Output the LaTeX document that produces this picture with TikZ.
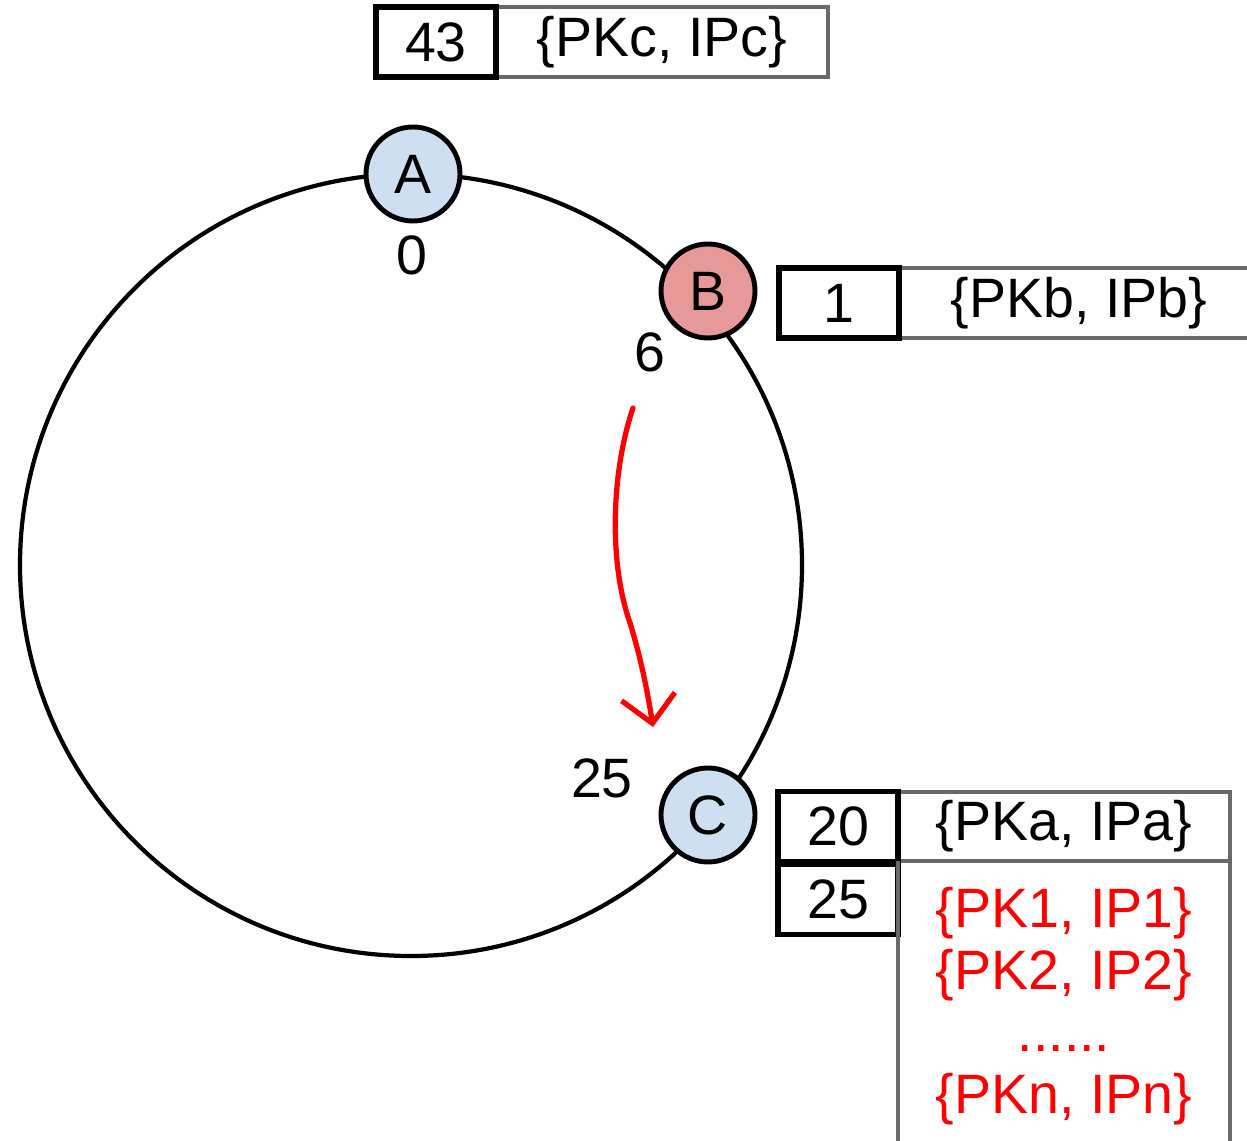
\documentclass[tikz,border=0pt]{standalone}
\usepackage{fontspec}
\setmainfont{Liberation Sans}
\usetikzlibrary{positioning, arrows.meta}

\definecolor{peerblue}{RGB}{206,223,241}
\definecolor{peerred}{RGB}{231,153,153}
\definecolor{tablegray}{RGB}{105,105,105}

\newcommand{\tablefont}{\fontsize{15.8}{17.6}\selectfont}

\tikzset{
    peer/.style={circle, draw=black, line width=1.4pt, minimum size=0.94cm,
        inner sep=0pt, font=\tablefont},
    keybox/.style={draw=black, line width=1.5pt, minimum width=1.2cm,
        minimum height=0.70cm, inner sep=0pt, outer sep=0pt, font=\tablefont},
    valbox/.style={draw=tablegray, line width=0.9pt, minimum height=0.70cm,
        inner sep=0pt, outer sep=0pt, font=\tablefont},
    valline/.style={draw=tablegray, line width=0.9pt},
    ringid/.style={inner sep=0pt, font=\tablefont},
}

\begin{document}
\begin{tikzpicture}
    \useasboundingbox (0,0) rectangle (12.47,-11.41);

    % ring
    \draw[line width=1.2pt] (4.11,-5.65) circle (3.91);

    % peers on the ring
    \node[peer, fill=peerblue] (A) at (4.13,-1.74) {A};
    \node[peer, fill=peerred]  (B) at (7.08,-2.91) {B};
    \node[peer, fill=peerblue] (C) at (7.08,-8.15) {C};

    % ring ids
    \node[ringid] (id0)  at (4.12,-2.55) {0};
    \node[ringid] (id6)  at (6.50,-3.52) {6};
    \node[ringid] (id25) at (6.02,-7.78) {25};

    % routing table of A
    \node[valbox, minimum width=3.32cm, anchor=north west] (vc) at (4.96,-0.07) {\{PKc, IPc\}};
    \node[keybox, left=0pt of vc] (kc) {43};

    % routing table of B
    \node[valbox, minimum width=3.6cm, anchor=north west] (vb) at (8.99,-2.68) {\{PKb, IPb\}};
    \node[keybox, left=0pt of vb] (kb) {1};

    % routing table of C
    \node[valbox, minimum width=3.32cm, minimum height=0.69cm, anchor=north west] (va) at (8.98,-7.92) {\{PKa, IPa\}};
    \node[keybox, left=0pt of va] (k20) {20};
    \node[keybox, below=0.03cm of k20] (k25) {25};
    \draw[valline] (va.south west) -- ++(0,-3.0);
    \draw[valline] (va.south east) -- ++(0,-3.0);
    \node[below=0.26cm of va, inner sep=0pt, align=center, text=red, font=\tablefont] (joined)
        {\{PK1, IP1\}\\ \{PK2, IP2\}\\ ......\\ \{PKn, IPn\}};

    % lookup from B towards C
    \coordinate (from) at (6.33,-4.08);
    \coordinate (to) at (6.53,-7.27);
    \draw[red, line width=1.5pt, line cap=round, -{Straight Barb[length=2.7mm, width=5.4mm]}]
        (from) .. controls (6.12,-4.70) and (6.08,-5.60) .. (6.30,-6.23)
               .. controls (6.42,-6.62) and (6.48,-6.95) .. (to);
\end{tikzpicture}
\end{document}
